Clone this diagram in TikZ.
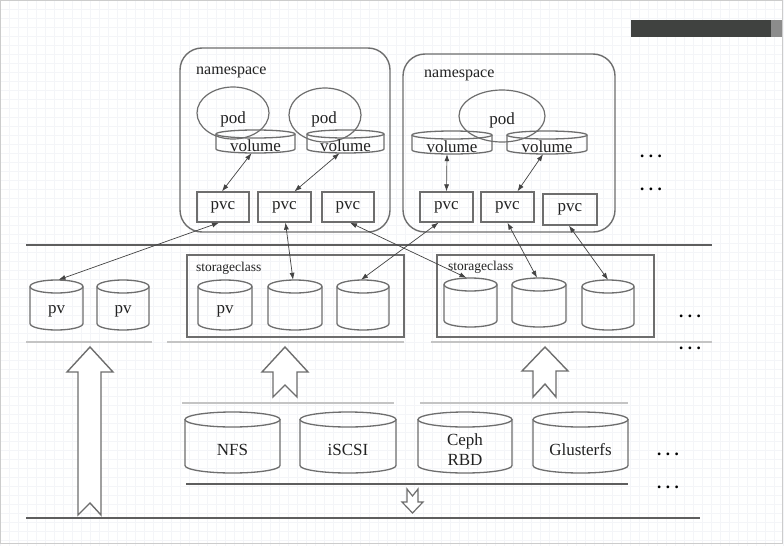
\documentclass[tikz,border=0pt]{standalone}
\usepackage{fontspec}
\setmainfont{Liberation Serif}
\usetikzlibrary{arrows.meta,shapes.geometric}
\definecolor{lineg}{HTML}{6E6E6E}
\definecolor{lightg}{HTML}{C4C4C4}
\definecolor{darkg}{HTML}{5E5E5E}
\definecolor{txt}{HTML}{222222}
\definecolor{barc}{HTML}{404240}
\definecolor{gridc}{HTML}{F4F5F8}
\tikzset{
  cylline/.style={draw=lineg, line width=1.3pt},
  cyltext/.style={inner sep=0pt, text=txt, font=\fontsize{17}{20}\selectfont, align=center},
  nsbox/.style={draw=lineg, line width=1.4pt, rounded corners=22pt},
  scbox/.style={draw=lineg, line width=1.4pt},
  pvcbox/.style={draw=lineg, line width=1.3pt, minimum height=30pt, inner sep=0pt, text=txt, font=\fontsize{17}{20}\selectfont},
  podell/.style={ellipse, draw=lineg, line width=1.2pt, inner sep=0pt},
  lbl/.style={inner sep=0pt, text=txt, anchor=west},
  link/.style={draw=txt!85, line width=0.7pt, {Latex[length=7pt,width=5pt]}-{Latex[length=7pt,width=5pt]}},
  darkline/.style={draw=darkg, line width=1.3pt},
  lightline/.style={draw=lightg, line width=2.2pt},
  blockarrow/.style={draw=lineg, line width=1.4pt, fill=white, line join=miter},
  dots/.style={inner sep=0pt, font=\bfseries\fontsize{17}{17}\selectfont, text=black}
}
% name, L, R, T, B, ry, label
\newcommand\mycyl[7]{%
  \pgfmathsetmacro\cylcx{(#2+#3)/2}%
  \pgfmathsetmacro\cylrx{(#3-#2)/2}%
  \pgfmathsetmacro\cylcy{(#4+#5)/2}%
  \pgfmathsetmacro\cylw{#3-#2}%
  \pgfmathsetmacro\cylh{#5-#4}%
  \pgfmathsetmacro\cylty{#4+#6}%
  \pgfmathsetmacro\cylby{#5-#6}%
  \pgfmathsetmacro\cyltx{(#4+2*#6+#5)/2}%
  \node[inner sep=0pt, minimum width=\cylw pt, minimum height=\cylh pt] (#1) at (\cylcx,\cylcy) {};
  \draw[cylline] (#2,\cylty) -- (#2,\cylby) arc[start angle=180, end angle=0, x radius=\cylrx, y radius=#6] -- (#3,\cylty);
  \draw[cylline] (\cylcx,\cylty) ellipse[x radius=\cylrx, y radius=#6];
  \node[cyltext] (#1-l) at (\cylcx,\cyltx) {#7};
}
\begin{document}
\begin{tikzpicture}[x=1pt, y=1pt, yscale=-1]
\useasboundingbox (0,0) rectangle (784,546);
\fill[white] (0,0) rectangle (784,546);
\draw[gridc, line width=0.5pt, step=9] (0,0) grid (784,546);
\draw[black!20, line width=1pt] (0.5,0.5) rectangle (782.5,543.5);
% top-right bar
\fill[barc] (631,20) rectangle (771,37);
\fill[black!45] (771,20) rectangle (782,37);

% namespaces
\node[nsbox, minimum width=210pt, minimum height=184pt, inner sep=0pt] (ns1) at (285,140) {};
\node[nsbox, minimum width=212pt, minimum height=178pt, inner sep=0pt] (ns2) at (509,143) {};
\node[lbl, font=\fontsize{16}{18}\selectfont] (ns1-l) at (196,72) {namespace};
\node[lbl, font=\fontsize{16}{18}\selectfont] (ns2-l) at (424,75) {namespace};

% pods
\node[podell, minimum width=72pt, minimum height=52pt] (pod1) at (233,113) {};
\node[podell, minimum width=72pt, minimum height=54pt] (pod2) at (325,115) {};
\node[podell, minimum width=86pt, minimum height=52pt] (pod3) at (502,116) {};
\node[cyltext] (pod1-l) at (233,119) {pod};
\node[cyltext] (pod2-l) at (324,119) {pod};
\node[cyltext] (pod3-l) at (502,120) {pod};

% volumes
\mycyl{vol1}{216}{295}{130}{153}{4}{volume}
\mycyl{vol2}{307}{384}{130}{153}{4}{volume}
\mycyl{vol3}{412}{492}{131}{154}{4}{volume}
\mycyl{vol4}{507}{587}{131}{154}{4}{volume}

% pvcs
\node[pvcbox, minimum width=52pt] (pvcA) at (223,207) {pvc};
\node[pvcbox, minimum width=53pt] (pvcB) at (284.5,207) {pvc};
\node[pvcbox, minimum width=52pt] (pvcC) at (348,207) {pvc};
\node[pvcbox, minimum width=53pt] (pvcD) at (446.5,207) {pvc};
\node[pvcbox, minimum width=53pt] (pvcE) at (507.5,207) {pvc};
\node[pvcbox, minimum width=54pt, minimum height=31pt] (pvcF) at (570,209.5) {pvc};

% volume <-> pvc
\draw[link] ([xshift=-4pt]vol1.south) -- ([xshift=-1pt]pvcA.north);
\draw[link] ([xshift=-6pt]vol2.south) -- ([xshift=10pt]pvcB.north);
\draw[link] ([xshift=-5pt]vol3.south) -- (pvcD.north);
\draw[link] ([xshift=-4pt]vol4.south) -- ([xshift=10pt]pvcE.north);

% separator
\coordinate (sepL) at (26,245);
\coordinate (sepR) at (712,245);
\draw[darkline] (sepL) -- (sepR);

% storage classes
\node[scbox, minimum width=217pt, minimum height=82pt, inner sep=0pt] (sc1) at (295.5,296) {};
\node[scbox, minimum width=217pt, minimum height=82pt, inner sep=0pt] (sc2) at (545.5,296) {};
\node[lbl, font=\fontsize{13.5}{15}\selectfont] (sc1-l) at (196,268) {storageclass};
\node[lbl, font=\fontsize{13.5}{15}\selectfont] (sc2-l) at (448,267) {storageclass};

% pvs
\mycyl{pv1}{30}{83}{280}{330}{6.5}{pv}
\mycyl{pv2}{97}{149}{280}{330}{6.5}{pv}
\mycyl{pv3}{198}{252}{280}{330}{6.5}{pv}
\mycyl{pv4}{268}{322}{280}{330}{6.5}{}
\mycyl{pv5}{337}{389}{280}{330}{6.5}{}
\mycyl{pv6}{444}{497}{278}{327}{6.5}{}
\mycyl{pv7}{512}{566}{278}{327}{6.5}{}
\mycyl{pv8}{582}{634}{280}{330}{6.5}{}

% pvc <-> pv
\draw[link] ([xshift=-4pt]pvcA.south) -- ([xshift=2pt]pv1.north);
\draw[link] ([xshift=1pt]pvcB.south) -- ([xshift=-2pt]pv4.north);
\draw[link] ([xshift=2pt]pvcC.south) -- ([xshift=-4pt]pv6.north);
\draw[link] ([xshift=-8pt]pvcD.south) -- ([xshift=-2pt]pv5.north);
\draw[link] (pvcE.south) -- ([xshift=-2pt]pv7.north);
\draw[link] ([xshift=-1pt]pvcF.south) -- (pv8.north);

% light lines
\draw[lightline] (26,342) -- (152,342);
\draw[lightline] (167,342) -- (404,342);
\draw[lightline] (431,342) -- (712,342);
\draw[lightline] (182,403) -- (394,403);
\draw[lightline] (420,403) -- (628,403);

% storage backends
\mycyl{nfs}{185}{280}{412}{473}{7.5}{NFS}
\mycyl{iscsi}{300}{396}{412}{473}{7.5}{iSCSI}
\mycyl{ceph}{418}{512}{412}{473}{7.5}{Ceph\\RBD}
\mycyl{gfs}{533}{628}{412}{473}{7.5}{Glusterfs}

% dark lines
\draw[darkline] (186,484) -- (628,484);
\draw[darkline] (26,518) -- (700,518);

% block arrows
\draw[blockarrow] (90,347) -- (113,372) -- (101,372) -- (101,515) -- (90,503) -- (78,515) -- (78,372) -- (67,372) -- cycle;
\draw[blockarrow] (285,347) -- (308,372) -- (297,372) -- (297,397) -- (285,385) -- (273,397) -- (273,372) -- (262,372) -- cycle;
\draw[blockarrow] (545,347) -- (568,371) -- (556,371) -- (556,397) -- (545,384) -- (533,397) -- (533,371) -- (522,371) -- cycle;
\draw[blockarrow, line width=1.2pt] (412.5,513) -- (423,502) -- (418,502) -- (418,489) -- (412.5,496) -- (407,489) -- (407,502) -- (402,502) -- cycle;

% dots
\node[dots] (d1) at (651,156) {.\hspace{4.5pt}.\hspace{4.5pt}.};
\node[dots] (d2) at (651,189) {.\hspace{4.5pt}.\hspace{4.5pt}.};
\node[dots] (d3) at (690,316) {.\hspace{4.5pt}.\hspace{4.5pt}.};
\node[dots] (d4) at (690,348) {.\hspace{4.5pt}.\hspace{4.5pt}.};
\node[dots] (d5) at (668,454) {.\hspace{4.5pt}.\hspace{4.5pt}.};
\node[dots] (d6) at (668,487) {.\hspace{4.5pt}.\hspace{4.5pt}.};
\end{tikzpicture}
\end{document}
